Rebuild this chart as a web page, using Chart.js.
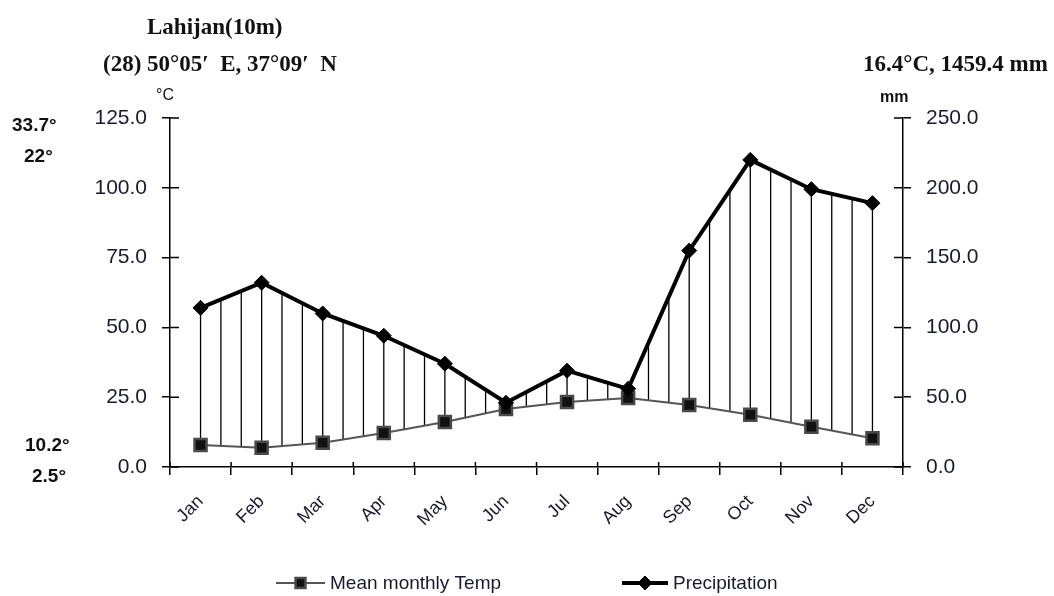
<!DOCTYPE html>
<html>
<head>
<meta charset="utf-8">
<script src="https://cdn.jsdelivr.net/npm/chart.js@4"></script>
<style>
  html, body { margin: 0; padding: 0; background: #fff; }
  #wrap { position: relative; width: 1054px; height: 596px; overflow: hidden; }
  #chart { position: absolute; left: 0; top: 0; }
  .note { position: absolute; white-space: nowrap; color: #111; }
  .serif { font-family: "Liberation Serif", "Times New Roman", serif; font-weight: bold; font-size: 23px; }
  .sans { font-family: "Liberation Sans", Arial, sans-serif; font-weight: bold; font-size: 19px; }
  .unit { font-family: "Liberation Sans", Arial, sans-serif; font-size: 16px; }
</style>
</head>
<body>
<div id="wrap">
  <canvas id="chart" width="1054" height="596"></canvas>
  <div class="note serif" style="left:147px; top:14px;">Lahijan(10m)</div>
  <div class="note serif" style="left:103px; top:51px;">(28) 50°05′&nbsp; E, 37°09′&nbsp; N</div>
  <div class="note serif" style="left:863px; top:51px;">16.4°C, 1459.4 mm</div>
  <div class="note unit" style="left:156px; top:86px;">°C</div>
  <div class="note unit" style="left:880px; top:88px; font-weight:bold;">mm</div>
  <div class="note sans" style="left:12px; top:114px;">33.7°</div>
  <div class="note sans" style="left:24px; top:145px;">22°</div>
  <div class="note sans" style="left:25px; top:434px;">10.2°</div>
  <div class="note sans" style="left:32px; top:465px;">2.5°</div>
</div>
<script>
/* ── Data ────────────────────────────────────────────────── */

const months = ['Jan', 'Feb', 'Mar', 'Apr', 'May', 'Jun', 'Jul', 'Aug', 'Sep', 'Oct', 'Nov', 'Dec'];
const tempC = [7.9, 6.9, 8.7, 12.2, 16.1, 20.8, 23.3, 24.7, 22.2, 18.7, 14.4, 10.3];
const precipMm = [114, 132, 110, 94, 74, 46, 69, 56, 155, 220, 199, 189];
const tempTicks = [0, 25, 50, 75, 100, 125];
const precipTicks = [0, 50, 100, 150, 200, 250];

const FONT = '"Liberation Sans", Arial, sans-serif';

/* ── Plugins ─────────────────────────────────────────────── */

// vertical hatch lines between the temperature and precipitation curves
const hatchPlugin = {
  id: 'hatch',
  beforeDatasetsDraw(chart) {
    const t = chart.getDatasetMeta(0).data;
    const p = chart.getDatasetMeta(1).data;
    const ctx = chart.ctx;
    ctx.save();
    ctx.strokeStyle = '#000';
    ctx.lineWidth = 1.3;
    const steps = 3;
    for (let i = 0; i < t.length; i++) {
      const last = i === t.length - 1;
      for (let k = 0; k < (last ? 1 : steps); k++) {
        const f = k / steps;
        const x = last ? t[i].x : t[i].x + (t[i + 1].x - t[i].x) * f;
        const yb = last ? t[i].y : t[i].y + (t[i + 1].y - t[i].y) * f;
        const yt = last ? p[i].y : p[i].y + (p[i + 1].y - p[i].y) * f;
        if (yt >= yb) continue;
        ctx.beginPath();
        ctx.moveTo(x, yt);
        ctx.lineTo(x, yb);
        ctx.stroke();
      }
    }
    ctx.restore();
  },
};

// short tick stubs on the inner side of every axis
const stubPlugin = {
  id: 'stubs',
  afterDraw(chart) {
    const ctx = chart.ctx;
    const s = chart.scales;
    ctx.save();
    ctx.strokeStyle = '#000';
    ctx.lineWidth = 1.5;
    ctx.beginPath();
    s.yT.ticks.forEach(t => {
      const y = s.yT.getPixelForValue(t.value);
      ctx.moveTo(s.yT.right, y); ctx.lineTo(s.yT.right + 9, y);
    });
    s.yP.ticks.forEach(t => {
      const y = s.yP.getPixelForValue(t.value);
      ctx.moveTo(s.yP.left, y); ctx.lineTo(s.yP.left - 9, y);
    });
    for (let k = 0; k <= months.length; k++) {
      const x = s.x.getPixelForValue(k - 0.5);
      ctx.moveTo(x, s.x.top); ctx.lineTo(x, s.x.top - 5);
    }
    ctx.stroke();
    ctx.restore();
  },
};

// bottom legend: line sample with marker, then label
const legendPlugin = {
  id: 'sketchLegend',
  afterDraw(chart) {
    const ctx = chart.ctx;
    const y = 583;
    const items = [
      { x: 276, w: 49, label: 'Mean monthly Temp', ds: chart.data.datasets[0], r: 7 },
      { x: 622, w: 46, label: 'Precipitation', ds: chart.data.datasets[1], r: 7 },
    ];
    ctx.save();
    items.forEach(it => {
      ctx.strokeStyle = it.ds.borderColor;
      ctx.lineWidth = it.ds.borderWidth;
      ctx.beginPath();
      ctx.moveTo(it.x, y); ctx.lineTo(it.x + it.w, y);
      ctx.stroke();
      ctx.fillStyle = it.ds.pointBackgroundColor;
      ctx.strokeStyle = it.ds.pointBorderColor;
      ctx.lineWidth = it.ds.pointBorderWidth;
      Chart.helpers.drawPoint(ctx, {
        pointStyle: it.ds.pointStyle,
        radius: it.r,
        borderWidth: it.ds.pointBorderWidth,
      }, it.x + it.w / 2, y);
      ctx.fillStyle = '#1a1a2e';
      ctx.font = '19px ' + FONT;
      ctx.textBaseline = 'middle';
      ctx.fillText(it.label, it.x + it.w + 5, y + 1);
    });
    ctx.restore();
  },
};

/* ── Chart ───────────────────────────────────────────────── */

const axisTicks = { color: '#1a1a2e', font: { family: FONT, size: 21 }, padding: 15 };

new Chart(document.getElementById('chart'), {
  type: 'line',
  data: {
    labels: months,
    datasets: [
      {
        label: 'Mean monthly Temp',
        data: tempC,
        yAxisID: 'yT',
        borderColor: '#555',
        borderWidth: 2,
        pointStyle: 'rect',
        pointRadius: 8.5,
        pointBackgroundColor: '#111',
        pointBorderColor: '#4a4a4a',
        pointBorderWidth: 2.5,
        tension: 0,
        order: 2,
      },
      {
        label: 'Precipitation',
        data: precipMm,
        yAxisID: 'yP',
        borderColor: '#000',
        borderWidth: 4,
        pointStyle: 'rectRot',
        pointRadius: 7.5,
        pointBackgroundColor: '#000',
        pointBorderColor: '#000',
        pointBorderWidth: 1,
        tension: 0,
        order: 1,
      },
    ],
  },
  options: {
    responsive: false,
    animation: false,
    layout: { padding: { top: 118, left: 0, right: 0, bottom: 0 } },
    plugins: { legend: { display: false }, tooltip: { enabled: false } },
    scales: {
      x: {
        offset: true,
        grid: { offset: true, drawOnChartArea: false, color: '#000', lineWidth: 1.5, tickLength: 8 },
        border: { color: '#000', width: 1.5 },
        ticks: { color: '#1a1a2e', font: { family: FONT, size: 18 }, minRotation: 45, maxRotation: 45, padding: 16 },
        afterFit(scale) { scale.height = 129; },
      },
      yT: {
        position: 'left',
        min: tempTicks[0],
        max: tempTicks[tempTicks.length - 1],
        afterBuildTicks(scale) { scale.ticks = tempTicks.map(v => ({ value: v })); },
        grid: { drawOnChartArea: false, color: '#000', lineWidth: 1.5, tickLength: 8 },
        border: { color: '#000', width: 1.5 },
        ticks: { ...axisTicks, callback: v => v.toFixed(1) },
        afterFit(scale) { scale.width = 170; },
      },
      yP: {
        position: 'right',
        min: precipTicks[0],
        max: precipTicks[precipTicks.length - 1],
        afterBuildTicks(scale) { scale.ticks = precipTicks.map(v => ({ value: v })); },
        grid: { drawOnChartArea: false, color: '#000', lineWidth: 1.5, tickLength: 8 },
        border: { color: '#000', width: 1.5 },
        ticks: { ...axisTicks, callback: v => v.toFixed(1) },
        afterFit(scale) { scale.width = 151; },
      },
    },
  },
  plugins: [hatchPlugin, stubPlugin, legendPlugin],
});
</script>
</body>
</html>
